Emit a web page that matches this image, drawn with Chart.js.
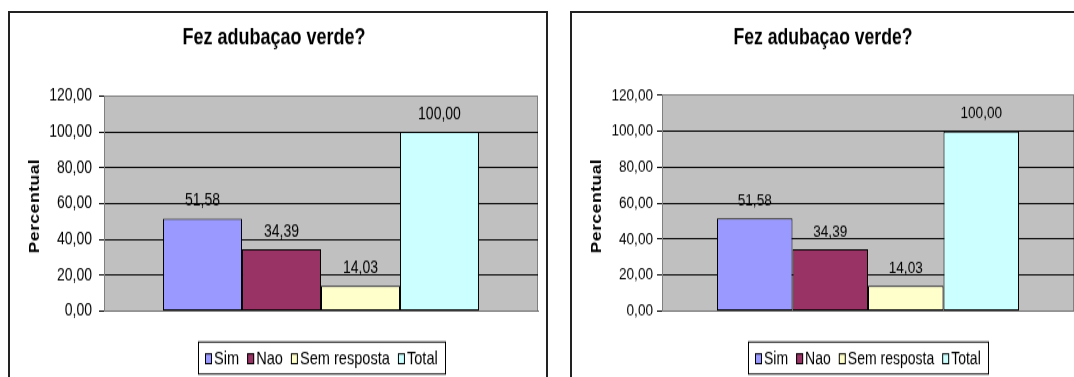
<!DOCTYPE html>
<html>
<head>
<meta charset="utf-8">
<script src="https://cdn.jsdelivr.net/npm/chart.js@4"></script>
<style>
    html, body { margin: 0; padding: 0; background: #fff; overflow: hidden; width: 1074px; height: 377px; }
    .frame { position: absolute; border: 2px solid #222; border-bottom: none; background: #fff; }
    /* the source picture is stretched vertically: tall, narrow letters */
    .frame canvas { display: block; transform-origin: 0 0; transform: scaleY(1.25); }
</style>
</head>
<body>
<div class="frame" style="left:8px; top:11px; width:536px; height:370px;">
    <canvas id="chartLeft" width="536" height="292"></canvas>
</div>
<div class="frame" style="left:570px; top:11px; width:516px; height:370px;">
    <canvas id="chartRight" width="516" height="292"></canvas>
</div>
<script>
// data
const chartTitle = 'Fez adubaçao verde?';
const axisTitle = 'Percentual';
const categories = ['Sim', 'Nao', 'Sem resposta', 'Total'];
const percentValues = [51.58, 34.39, 14.03, 100.00];
const yTickValues = [0, 20, 40, 60, 80, 100, 120];

const seriesColors = ['#9999FF', '#993366', '#FFFFCC', '#CCFFFF'];
const FONT = "'Liberation Sans', Arial, sans-serif";

const fmt = v => v.toFixed(2).replace('.', ',');

// grey plot area with frame
const plotArea = {
    id: 'plotArea',
    beforeDraw(chart) {
        const a = chart.chartArea;
        const ctx = chart.ctx;
        ctx.save();
        ctx.fillStyle = '#C0C0C0';
        ctx.fillRect(a.left, a.top, a.right - a.left, a.bottom - a.top);
        ctx.strokeStyle = '#808080';
        ctx.lineWidth = 1;
        ctx.beginPath();
        ctx.moveTo(Math.round(a.right) - 0.5, a.top);
        ctx.lineTo(Math.round(a.right) - 0.5, a.bottom);
        ctx.stroke();
        ctx.restore();
    }
};

// value on top of each bar
const barValues = {
    id: 'barValues',
    afterDatasetsDraw(chart, args, opts) {
        const ctx = chart.ctx;
        ctx.save();
        ctx.font = opts.size + 'px ' + FONT;
        ctx.fillStyle = '#000';
        ctx.textAlign = 'center';
        ctx.textBaseline = 'alphabetic';
        chart.data.datasets.forEach((ds, i) => {
            const bar = chart.getDatasetMeta(i).data[0];
            ctx.fillText(fmt(ds.data[0]), bar.x, bar.y - 10.4);
        });
        ctx.restore();
    }
};

// rotated axis title and the boxed legend
const extras = {
    id: 'extras',
    afterDraw(chart, args, opts) {
        const ctx = chart.ctx;
        const a = chart.chartArea;

        ctx.save();
        ctx.translate(opts.axisX, opts.axisY);
        ctx.rotate(-Math.PI / 2);
        ctx.font = 'bold ' + opts.axisSize + 'px ' + FONT;
        ctx.letterSpacing = '0.4px';
        ctx.fillStyle = '#000';
        ctx.textAlign = 'center';
        ctx.textBaseline = 'middle';
        ctx.fillText(axisTitle, 0, 0);
        ctx.restore();

        ctx.save();
        ctx.font = opts.legendSize + 'px ' + FONT;
        const sw = 7, sh = 8.8, gapText = 2, gapItem = 8, pad = 7;
        const items = chart.data.datasets.map(ds => ({
            label: ds.label,
            color: ds.backgroundColor,
            w: ctx.measureText(ds.label).width
        }));
        const total = pad * 2 + items.reduce((s, it) => s + sw + gapText + it.w, 0) + gapItem * (items.length - 1);
        let x = Math.round((a.left + a.right) / 2 - total / 2);
        ctx.fillStyle = '#fff';
        ctx.fillRect(x, opts.legendTop, total, opts.legendBottom - opts.legendTop);
        ctx.strokeStyle = '#000';
        ctx.lineWidth = 1;
        ctx.strokeRect(x + 0.5, opts.legendTop, Math.round(total), opts.legendBottom - opts.legendTop);
        x += pad;
        const base = opts.legendBaseline;
        ctx.textAlign = 'left';
        ctx.textBaseline = 'alphabetic';
        items.forEach(it => {
            ctx.fillStyle = it.color;
            ctx.fillRect(x, base - sh, sw, sh);
            ctx.strokeStyle = '#000';
            ctx.strokeRect(x + 0.5, base - sh + 0.5, sw - 1, sh - 1);
            x += sw + gapText;
            ctx.fillStyle = '#000';
            ctx.fillText(it.label, x, base);
            x += it.w + gapItem;
        });
        ctx.restore();
    }
};

function createBarChart(canvasId, d) {
    const ctx = document.getElementById(canvasId).getContext('2d');
    return new Chart(ctx, {
        type: 'bar',
        data: {
            labels: [''],
            datasets: categories.map((name, i) => ({
                label: name,
                data: [percentValues[i]],
                backgroundColor: seriesColors[i],
                borderColor: '#000',
                borderWidth: 1,
                borderSkipped: false,
                categoryPercentage: d.groupPct,
                barPercentage: 1.0
            }))
        },
        options: {
            responsive: false,
            animation: false,
            layout: {
                padding: { left: 0, right: d.padRight, top: 0, bottom: d.padBottom }
            },
            scales: {
                x: {
                    grid: { display: false },
                    ticks: { display: false },
                    border: { display: true, color: '#707070', width: 1 },
                    afterFit: s => { s.height = 0; }
                },
                y: {
                    min: 0,
                    max: yTickValues[yTickValues.length - 1],
                    afterBuildTicks: s => { s.ticks = yTickValues.map(v => ({ value: v })); },
                    ticks: {
                        padding: d.tickPad,
                        color: '#000',
                        font: { family: FONT, size: d.tickSize },
                        callback: v => fmt(v)
                    },
                    grid: {
                        color: c => c.tick && c.tick.value === 120 ? '#808080' : '#000',
                        tickColor: '#000',
                        tickLength: 5,
                        drawTicks: true
                    },
                    border: { display: true, color: '#808080', width: 1 },
                    afterFit: s => { s.width = d.axisWidth; }
                }
            },
            plugins: {
                legend: { display: false },
                tooltip: { enabled: false },
                title: {
                    display: true,
                    text: chartTitle,
                    color: '#000',
                    font: { family: FONT, size: d.titleSize, weight: 'bold' },
                    padding: { top: d.titleTop, bottom: d.titleBottom }
                },
                barValues: { size: d.valueSize },
                extras: {
                    axisX: 25, axisY: 154.4, axisSize: d.axisSize,
                    legendSize: d.legendSize,
                    legendTop: 263.2, legendBottom: 288.8, legendBaseline: 281
                }
            }
        },
        plugins: [plotArea, barValues, extras]
    });
}

createBarChart('chartLeft', {
    groupPct: 0.728, padRight: 8, padBottom: 53.6, tickPad: 7, axisWidth: 94,
    tickSize: 14, valueSize: 14, legendSize: 14.6, titleSize: 18, axisSize: 14,
    titleTop: 9.5, titleBottom: 35.3
});
createBarChart('chartRight', {
    groupPct: 0.733, padRight: 14, padBottom: 53.6, tickPad: 4, axisWidth: 90,
    tickSize: 13.6, valueSize: 13.6, legendSize: 14, titleSize: 17.6, axisSize: 14,
    titleTop: 9.7, titleBottom: 35.1
});
</script>
</body>
</html>
